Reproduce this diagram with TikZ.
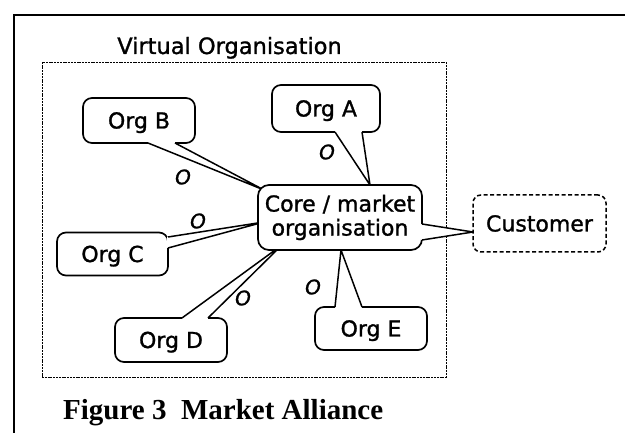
\documentclass[tikz,border=0pt]{standalone}
\usepackage{fontspec}
\setmainfont{Liberation Serif}
\newfontfamily\diafont{DejaVu Sans}[FakeBold=1.2]
\tikzset{
  frameline/.style={line width=1.8pt},
  vobox/.style={draw, line width=0.9pt, dash pattern=on 2pt off 0.8pt},
  orgbox/.style={draw, line width=1.7pt, rounded corners=9pt, fill=white,
    minimum width=112pt, minimum height=45pt, inner sep=0pt,
    text height=16pt, text depth=0pt,
    font={\diafont\fontsize{22}{25}\selectfont}},
  corebox/.style={draw, line width=1.7pt, rounded corners=11pt, fill=white,
    minimum width=164pt, minimum height=65pt, inner sep=0pt, align=center,
    font={\diafont\fontsize{22}{24}\selectfont}},
  custbox/.style={draw, line width=1.5pt, dash pattern=on 4pt off 2.5pt,
    rounded corners=8pt, fill=white, minimum width=133pt, minimum height=57pt,
    inner sep=0pt, text height=16pt, text depth=0pt,
    font={\diafont\fontsize{22}{25}\selectfont}},
  olabel/.style={inner sep=0pt, font={\diafont\itshape\fontsize{20}{22}\selectfont}},
  titletext/.style={inner sep=0pt, font={\diafont\fontsize{22.5}{25}\selectfont}},
  captext/.style={inner sep=0pt, font={\bfseries\fontsize{29}{32}\selectfont}},
  ptrside/.style={line width=1.5pt, line join=round},
  ptrerase/.style={white, line width=3pt},
}
\newcommand\ptrwedge[3]{%
  \fill[white] (#1) -- (#3) -- (#2) -- cycle;
  \draw[ptrerase] (#1) -- (#2);
  \draw[ptrside] (#1) -- (#3) -- (#2);}
\begin{document}
\begin{tikzpicture}[x=1pt,y=-1pt]
\useasboundingbox (0,0) rectangle (625,433);
% outer frame
\draw[frameline] (625,15) -- (14,15) -- (14,433);
% title and virtual organisation box
\node[titletext, anchor=base] (vo) at (229.5,54) {Virtual Organisation};
\node[vobox, minimum width=404pt, minimum height=315pt, inner sep=0pt] (vbox) at (244,219.5) {};
% organisations
\node[orgbox] (orgB) at (139,120.5) {Org B};
\node[orgbox, minimum width=108pt, minimum height=47pt] (orgA) at (326,108.5) {Org A};
\node[orgbox, minimum width=111pt, minimum height=43pt] (orgC) at (112.5,254) {Org C};
\node[orgbox, minimum height=44pt] (orgD) at (171,340) {Org D};
\node[orgbox, minimum height=43pt] (orgE) at (371,328.5) {Org E};
% pointer coordinates
\coordinate (tB) at (264,190);
\coordinate (tA) at (370,185);
\coordinate (tC) at (264,222);
\coordinate (tD) at (282,245);
\coordinate (tE) at (341,250);
\coordinate (bB1) at (148,143); \coordinate (bB2) at (175,143);
\coordinate (bA1) at (335,132); \coordinate (bA2) at (362,132);
\coordinate (bC1) at (168,237); \coordinate (bC2) at (168,248);
\coordinate (bD1) at (182,318); \coordinate (bD2) at (208,318);
\coordinate (bE1) at (335,307); \coordinate (bE2) at (362,307);
\ptrwedge{bB1}{bB2}{tB}
\ptrwedge{bA1}{bA2}{tA}
\ptrwedge{bC1}{bC2}{tC}
\ptrwedge{bD1}{bD2}{tD}
\ptrwedge{bE1}{bE2}{tE}
% core
\node[corebox] (core) at (340,217.5) {Core / market\\organisation};
\coordinate (tK) at (473,232);
\coordinate (bK1) at (422,224); \coordinate (bK2) at (422,240);
\ptrwedge{bK1}{bK2}{tK}
% customer
\node[custbox] (cust) at (539.5,223.5) {Customer};
% O labels
\node[olabel] (oB) at (183,177) {O};
\node[olabel] (oA) at (327,152) {O};
\node[olabel] (oC) at (198,221) {O};
\node[olabel] (oD) at (243,298) {O};
\node[olabel] (oE) at (313,287) {O};
% caption
\node[captext, anchor=base west] (cap) at (63,420) {Figure 3~~Market Alliance};
\end{tikzpicture}
\end{document}
